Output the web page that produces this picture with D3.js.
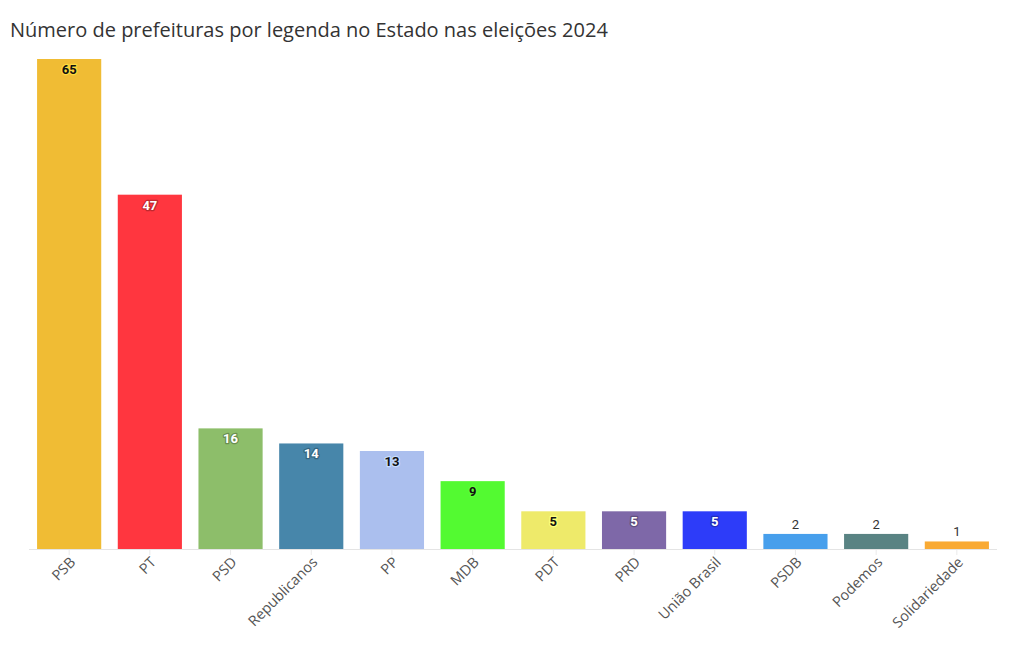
<!DOCTYPE html>
<html><head><meta charset="utf-8">
<script src="https://cdn.jsdelivr.net/npm/d3@7"></script>
<style>
body{margin:0;background:#fff;}
svg{display:block;}
</style></head>
<body>
<svg id="c" width="1020" height="650"></svg>
<script>
const categories = ["PSB","PT","PSD","Republicanos","PP","MDB","PDT","PRD","União Brasil","PSDB","Podemos","Solidariedade"];
const values = [65,47,16,14,13,9,5,5,5,2,2,1];
const colors = ["#f0bc34","#ff363f","#8dbe6a","#4786aa","#abbfee","#53fa31","#eeea6a","#7e68a8","#2d3cf9","#479fec","#598383","#f9aa34"];
const title = "Número de prefeituras por legenda no Estado nas eleições 2024";

const svg = d3.select("#c");
const W = 1020, H = 650;
const m = {top: 59, left: 29, right: 23, bottom: 101};
const x = d3.scaleBand().domain(categories).range([m.left, W - m.right]).paddingInner(0.205).paddingOuter(0.1);
const y = d3.scaleLinear().domain([0, 65]).range([H - m.bottom, m.top]);

svg.append("text").attr("x", 10).attr("y", 37)
  .attr("font-family", "'Open Sans', 'Noto Sans', sans-serif").attr("font-size", 20)
  .attr("fill", "#333").text(title);

const data = categories.map((c, i) => ({c, v: values[i], col: colors[i]}));

svg.append("g").selectAll("rect").data(data).join("rect")
  .attr("x", d => x(d.c)).attr("width", x.bandwidth())
  .attr("y", d => y(d.v)).attr("height", d => y(0) - y(d.v))
  .attr("fill", d => d.col);

// baseline
svg.append("line").attr("x1", m.left).attr("x2", W - m.right)
  .attr("y1", y(0) + 0.5).attr("y2", y(0) + 0.5).attr("stroke", "#e4e4e4");

// x axis
const ax = svg.append("g").attr("transform", `translate(0,${y(0)})`)
  .call(d3.axisBottom(x).tickSize(6).tickSizeOuter(0));
ax.select(".domain").remove();
ax.selectAll(".tick line").attr("stroke", "#eaeaea").attr("y1", 1);
ax.selectAll(".tick text")
  .attr("font-family", "'Open Sans', 'Noto Sans', sans-serif").attr("font-size", 14.5)
  .attr("fill", "#555").attr("text-anchor", "end")
  .attr("transform", "translate(1,8) rotate(-45)").attr("dy", "0.6em").attr("dx", 0).attr("y", 0);

function lum(hex){ const c = d3.rgb(hex); return (0.299*c.r + 0.587*c.g + 0.114*c.b)/255; }
const dark = d => lum(d.col) > 0.67;

svg.append("g").selectAll("text").data(data).join("text")
  .attr("x", d => x(d.c) + x.bandwidth()/2)
  .attr("y", d => d.v >= 5 ? y(d.v) + 15 : y(d.v) - 5)
  .attr("text-anchor", "middle")
  .attr("font-family", "Roboto, 'Noto Sans', sans-serif").attr("font-size", 13)
  .attr("font-weight", d => d.v >= 5 ? "bold" : "normal")
  .attr("fill", d => d.v < 5 ? "#333" : (dark(d) ? "#111" : "#fff"))
  .attr("stroke", d => d.v < 5 ? "none" : (dark(d) ? d3.rgb(d.col).brighter(0.4) : d3.rgb(d.col).darker(0.8)))
  .attr("stroke-width", 2.5).attr("paint-order", "stroke").attr("stroke-linejoin", "round")
  .text(d => d.v);
</script>
</body></html>
